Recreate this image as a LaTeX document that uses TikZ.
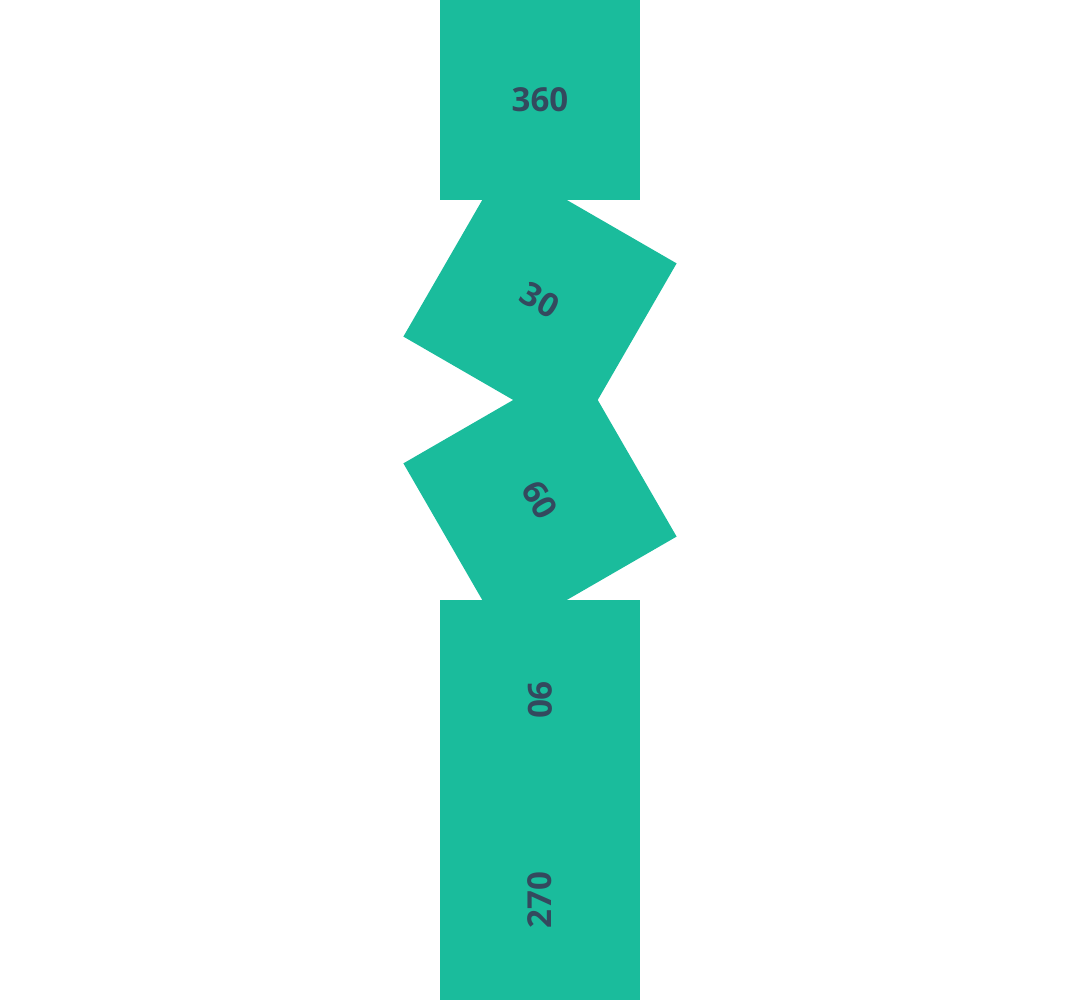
\documentclass[tikz,border=0pt]{standalone}
\usepackage{fontspec}
\setmainfont{Open Sans}
\usepackage{tikz}
\definecolor{colorTile}{HTML}{1ABC9C}
\definecolor{colorLabel}{HTML}{34495E}
\tikzset{tile/.style={fill=colorTile, minimum size=2cm, inner sep=0pt, text=colorLabel, font=\bfseries\fontsize{9.4}{11}\selectfont}}
\begin{document}
\begin{tikzpicture}
\useasboundingbox (0,0) rectangle (10.8,10);
% one tile per row, each cut to its own band
\foreach \angle/\row in {360/0,30/1,60/2,90/3,270/4} {
  \begin{scope}
    \clip (0,{8-2*\row}) rectangle (10.8,{10-2*\row});
    \node[tile, rotate=-\angle] (t\angle) at (5.4,{9-2*\row}) {\angle};
  \end{scope}
}
\end{tikzpicture}
\end{document}
